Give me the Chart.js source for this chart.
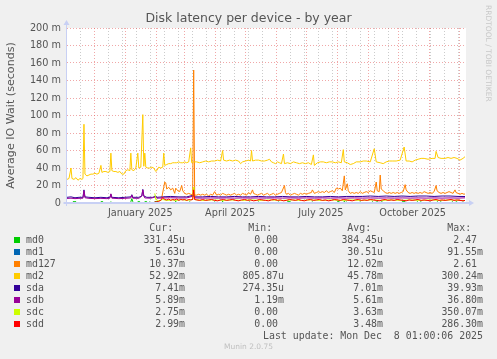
<!DOCTYPE html>
<html>
<head>
<meta charset="utf-8">
<script src="https://cdn.jsdelivr.net/npm/chart.js@4.4.1/dist/chart.umd.min.js"></script>
<style>
  html, body { margin: 0; padding: 0; background: #f0f0f0; }
  #wrap { position: relative; width: 497px; height: 359px; overflow: hidden; }
  #wrap canvas { position: absolute; left: 0; top: 0; }
  .txt { position: absolute; white-space: pre; font-family: 'DejaVu Sans Mono', monospace; font-size: 9.9px; line-height: 12px; color: #555; }
  .sw { position: absolute; width: 6px; height: 6px; }
  #rrd { position: absolute; left: 484px; top: 5px; writing-mode: vertical-rl; font-family: 'DejaVu Sans', sans-serif; font-size: 7.5px; line-height: 8px; color: #c8c8c8; white-space: pre; }
  #munin { position: absolute; left: 0; width: 497px; top: 342px; text-align: center; font-family: 'DejaVu Sans', sans-serif; font-size: 7.5px; line-height: 10px; color: #c0c0c0; }
</style>
</head>
<body>
<div id="wrap">
  <canvas id="latencyChart" width="497" height="359"></canvas>
  <div id="rrd">RRDTOOL / TOBI OETIKER</div>
  <div id="legend"></div>
  <div id="munin">Munin 2.0.75</div>
</div>
<script>
// day 0 = 3 Nov 2024, one point per [day, milliseconds]
const startDate = '2024-11-03';
const chartTitle = 'Disk latency per device - by year';
const yTitle = 'Average IO Wait (seconds)';
const xLabels = ['January 2025', 'April 2025', 'July 2025', 'October 2025'];
const xLabelMonths = ['2025-01-01', '2025-04-01', '2025-07-01', '2025-10-01'];

const seriesNames = ['md0', 'md1', 'md127', 'md2', 'sda', 'sdb', 'sdc', 'sdd'];
const seriesColors = ['#00CC00', '#0066B3', '#FF8000', '#FFCC00', '#330099', '#990099', '#CCFF00', '#FF0000'];
const curVals = ['331.45u', '5.63u', '10.37m', '52.92m', '7.41m', '5.89m', '2.75m', '2.99m'];
const minVals = ['0.00 ', '0.00 ', '0.00 ', '805.87u', '274.35u', '1.19m', '0.00 ', '0.00 '];
const avgVals = ['384.45u', '30.51u', '12.02m', '45.78m', '7.01m', '5.61m', '3.63m', '3.48m'];
const maxVals = ['2.47 ', '91.55m', '2.61 ', '300.24m', '39.93m', '36.80m', '350.07m', '286.30m'];
const lastUpdate = 'Last update: Mon Dec  8 01:00:06 2025';

const md0 = [[0,0.1],[5,0.1],[6,1.5],[9,1.5],[10,0.1],[33,0.1],[34,1.5],[36,1.5],[37,0.1],[43,0.1],[44,1.5],[45,0.1],
  [63,0.1],[64,1.5],[65,5],[66,1.5],[67,0.1],[70,0.1],[71,1.5],[73,1.5],[74,0.1],[77,0.1],[78,1.5],[80,1.5],[81,0.1],
  [82,0.1],[83,1.5],[84,0.1],[87,0.1],[88,1.5],[91,1.5],[92,0.1],[108,0.1],[109,2],[110,0.1],[122,0.1],[123,1.5],[124,0.1],
  [147,0.1],[148,1.5],[149,0.1],[155,0.1],[156,2],[157,0.1],[182,0.1],[183,1.5],[184,0.1],[191,0.1],[192,1.5],[193,0.1],
  [211,0.1],[212,1.5],[213,0.1],[220,0.1],[221,1.5],[224,1.5],[225,0.1],[245,0.1],[246,1.5],[247,0.1],[270,0.1],[271,1.5],
  [273,1.5],[274,0.1],[277,0.1],[278,2],[279,0.1],[280,1.5],[281,0.1],[293,0.1],[294,1.5],[295,0.1],[305,0.1],[306,1.5],
  [308,0.1],[311,1.5],[313,0.1],[316,1.5],[317,0.1],[335,0.1],[336,1.5],[339,1.5],[340,0.1],[350,0.1],[351,1.5],[353,0.1],
  [355,1.5],[356,0.1],[363,0.1],[364,1.5],[365,0.1],[370,0.1],[371,1.5],[373,0.1],[375,1.5],[376,0.1],[385,0.1],[386,1.5],
  [388,0.1],[391,1.5],[392,0.1],[396,0.1],[397,1.5],[398,0.1],[399,0.33]];
const md1 = [[0,0.03],[399,0.03]];
const md127 = [[95,6],[97,18],[98,24],[99,23],[100,16],[102,18],[104,15],[106,17],[108,11],[109,17],[111,14],[113,13],
  [115,20],[116,14],[118,11],[120,10],[122,11],[124,10],[126,9],[127,152],[128,9],[130,9],[132,10],[134,9],[136,10],
  [138,9],[140,10],[142,8],[144,10],[146,9],[148,13],[150,9],[152,10],[154,9],[156,11],[158,10],[160,9],[162,10],[164,9],
  [166,10],[168,11],[170,9],[172,10],[174,9],[176,11],[178,10],[180,9],[182,12],[184,10],[186,15],[187,11],[189,10],
  [191,9],[193,10],[195,11],[197,9],[199,10],[201,11],[203,9],[205,10],[207,11],[209,9],[211,10],[213,11],[215,12],
  [218,20],[219,12],[220,10],[222,11],[224,9],[226,10],[228,11],[230,10],[232,9],[234,11],[236,10],[238,11],[240,10],
  [242,11],[245,12],[246,15],[248,11],[250,12],[252,13],[254,12],[256,13],[258,12],[260,14],[262,12],[264,13],[266,14],
  [268,12],[270,17],[272,16],[274,17],[276,14],[278,31],[279,15],[281,22],[282,14],[284,11],[286,12],[288,11],[290,12],
  [292,11],[294,13],[296,11],[298,12],[300,13],[302,12],[304,14],[306,13],[308,12],[310,24],[311,14],[313,13],[314,32],
  [315,16],[317,14],[319,12],[321,11],[323,12],[325,11],[327,12],[329,11],[331,12],[333,11],[335,12],[337,13],[339,21],
  [340,15],[342,12],[344,11],[346,12],[348,11],[350,12],[352,11],[354,12],[356,11],[358,13],[360,12],[362,11],[364,12],
  [366,11],[368,13],[370,20],[371,14],[373,12],[375,11],[377,12],[379,11],[381,12],[383,13],[385,12],[387,11],[389,15],
  [390,12],[392,11],[394,10],[396,11],[398,10],[399,10.4]];
const md2 = [[0,27],[2,28],[4,40],[5,28],[7,27],[9,29],[11,26],[13,28],[15,27],[16,28],[17,90],[18,33],[20,31],[22,32],
  [24,33],[26,33],[28,34],[30,33],[32,34],[34,43],[35,35],[37,36],[39,36],[41,35],[43,36],[44,57],[45,37],[47,36],[49,36],
  [51,35],[53,36],[55,33],[57,33],[59,37],[61,38],[63,37],[64,57],[65,38],[67,37],[69,40],[71,57],[72,40],[74,41],[76,101],
  [77,42],[78,57],[79,41],[81,40],[83,40],[85,41],[87,40],[89,36],[90,37],[92,41],[94,40],[96,41],[97,57],[98,43],[100,44],
  [102,45],[104,45],[106,46],[108,46],[110,46],[112,47],[114,46],[116,46],[118,47],[120,46],[122,47],[124,63],[125,46],
  [127,47],[130,47],[133,46],[136,47],[139,48],[142,47],[145,48],[148,48],[151,49],[154,48],[156,60],[157,49],[160,48],
  [163,49],[166,48],[169,49],[172,48],[174,45],[176,47],[179,48],[182,49],[184,48],[185,60],[186,48],[189,49],[192,49],
  [195,48],[198,48],[201,49],[203,50],[205,47],[207,46],[209,45],[211,47],[213,46],[215,45],[217,56],[218,45],[221,46],
  [224,45],[227,47],[230,46],[233,45],[236,46],[239,45],[242,46],[245,44],[247,55],[248,43],[251,46],[254,47],[257,47],
  [260,46],[263,47],[266,47],[269,46],[272,47],[275,46],[277,61],[278,47],[281,46],[284,44],[287,45],[290,47],[294,47],
  [297,48],[300,48],[304,47],[308,62],[310,47],[314,46],[317,45],[320,47],[323,48],[326,48],[330,48],[334,49],[338,64],
  [340,48],[343,48],[346,47],[349,49],[352,50],[355,51],[358,51],[362,50],[366,51],[369,51],[370,59],[372,52],[375,51],
  [379,51],[382,52],[385,51],[388,52],[391,51],[394,49],[397,51],[399,52.9]];
const sda = [[0,6.5],[4,7],[8,6],[12,6.5],[16,6.5],[17,15],[18,7],[22,6.5],[28,6],[34,6.5],[40,6],[43,6.5],[44,10],
  [45,6.5],[52,6],[58,6.5],[64,7],[65,9.5],[66,6.5],[72,6.5],[75,8],[76,15.5],[77,8],[80,6.5],[86,6.5],[89,8],[90,6.5],
  [96,7],[104,7.5],[112,7],[120,7],[127,9],[128,7],[136,7],[144,7.5],[152,7],[160,7],[168,7.5],[176,7],[184,7],[192,7.5],
  [200,7],[208,7],[216,7.5],[224,7],[232,7],[240,7.5],[248,7],[256,7],[264,7.5],[272,7],[280,7.5],[288,7.5],[296,7.5],
  [304,8],[312,7.5],[320,8],[328,7.5],[336,8],[344,7.5],[352,8],[360,8],[368,7.5],[376,8],[384,8],[392,7.5],[399,7.4]];
const sdb = [[0,5.2],[4,5.5],[8,5],[12,5.3],[16,5.5],[17,14],[18,6],[22,5.3],[28,5],[34,5.3],[40,5],[43,5.5],[44,10.5],
  [45,5.5],[52,5],[58,5.3],[64,5.8],[65,9],[66,5.5],[72,5.3],[75,8],[76,15],[77,8],[78,5.8],[84,5.5],[89,7],[90,5.5],
  [96,5.8],[104,6],[112,5.7],[120,5.8],[127,8],[128,5.8],[136,5.6],[144,5.8],[152,5.6],[160,5.8],[168,5.6],[176,5.8],
  [184,5.6],[192,5.8],[200,5.6],[208,5.8],[216,5.6],[224,5.8],[232,5.6],[240,5.8],[248,5.6],[256,5.8],[264,5.6],[272,5.8],
  [280,5.6],[288,5.8],[296,5.6],[304,5.8],[312,5.6],[320,5.8],[328,5.6],[336,5.8],[344,5.6],[352,5.8],[360,5.6],[368,5.8],
  [376,5.6],[384,5.8],[392,5.6],[399,5.9]];
const sdc = [[88,11],[89,4],[92,2.5],[96,4],[100,3],[105,3.5],[110,3],[115,4],[120,3],[126,4],[127,18],[128,4],[135,3],
  [145,3.5],[155,3],[165,3.5],[175,3],[185,3.5],[195,3],[205,3.5],[215,3],[225,3.5],[235,3],[245,3.5],[255,3],[265,3.5],
  [275,3],[285,3.5],[295,3],[305,3.5],[315,3],[325,3.5],[335,3],[345,3.5],[355,3],[365,3.5],[375,3],[385,3.5],[395,3],
  [399,2.75]];
const sdd = [[88,1.5],[90,1.2],[92,2],[94,3],[96,6.5],[98,4],[100,3.5],[102,4.5],[104,3],[106,4],[108,3.5],[110,4.5],
  [112,3],[114,4],[116,3.5],[118,4],[120,3],[122,4],[124,3.5],[126,4],[127,15],[128,4],[130,3.5],[133,3],[136,4],[139,3],
  [142,3.5],[145,4],[148,3],[151,2.5],[154,3.5],[157,4],[160,3],[163,3.5],[166,4],[169,3],[172,2.5],[175,3.5],[178,4],
  [181,3],[184,3.5],[187,2.5],[190,3],[193,4],[196,3.5],[199,3],[202,2.5],[205,3.5],[208,4],[211,3],[214,3.5],[217,2.5],
  [220,3],[223,4],[226,3.5],[229,3],[232,4],[235,3],[238,2.5],[241,3.5],[244,4],[247,3],[250,3.5],[253,4],[256,3],
  [259,3.5],[262,2.5],[265,3],[268,4],[271,3.5],[274,3],[277,4],[280,3.5],[283,3],[286,2.5],[289,3.5],[292,4],[295,3],
  [298,3.5],[301,3],[304,4],[307,3.5],[310,3],[313,2.5],[316,3.5],[319,4],[322,3],[325,3.5],[328,3],[331,4],[334,3.5],
  [337,3],[340,2.5],[343,3.5],[346,3],[349,3.5],[352,4],[355,3],[358,3.5],[361,3],[364,2.5],[367,3.5],[370,4],[373,3],
  [376,3.5],[379,3],[382,3.5],[385,4],[388,3],[391,3.5],[394,3],[397,2.5],[399,3]];

const seriesData = [md0, md1, md127, md2, sda, sdb, sdc, sdd];

document.addEventListener('DOMContentLoaded', function() {
    const ctx = document.getElementById('latencyChart').getContext('2d');
    const DAY = 86400000;
    const t0 = Date.parse(startDate);
    const dayOf = s => (Date.parse(s) - t0) / DAY;

    // grid positions: month starts (red) and every other Sunday (grey)
    function buildXTicks() {
        const ticks = [];
        const major = [];
        for (let m = 0; m < 14; m++) {
            const d = (Date.UTC(2024, 10 + m, 1) - t0) / DAY;
            if (d > 0 && d < 400) { major.push(d); ticks.push({ value: d, kind: 'major' }); }
        }
        for (let d = 14; d < 400; d += 14) {
            if (!major.includes(d)) ticks.push({ value: d, kind: 'minor' });
        }
        xLabelMonths.forEach((m, i) => {
            ticks.push({ value: dayOf(m) + 14.5, kind: 'label', text: xLabels[i] });
        });
        return ticks.sort((a, b) => a.value - b.value);
    }

    const rrdFrame = {
        id: 'rrdFrame',
        beforeDraw(chart) {
            const a = chart.chartArea;
            const c = chart.ctx;
            c.save();
            c.fillStyle = '#ffffff';
            c.fillRect(a.left, a.top, a.right - a.left, a.bottom - a.top);
            c.restore();
        },
        afterDatasetsDraw(chart) {
            const a = chart.chartArea;
            const c = chart.ctx;
            const x0 = Math.round(a.left) - 0.5;
            const yb = Math.round(a.bottom);
            c.save();
            c.fillStyle = '#c8d0f4';
            c.fillRect(x0 - 3, yb - 1, a.right - x0 + 6, 2);
            c.fillRect(x0 - 0.5, a.top - 3, 1, yb - a.top + 6);
            c.beginPath();
            c.moveTo(a.right + 3, yb - 3);
            c.lineTo(a.right + 8, yb);
            c.lineTo(a.right + 3, yb + 3);
            c.closePath();
            c.fill();
            c.beginPath();
            c.moveTo(x0 - 3, a.top - 3);
            c.lineTo(x0, a.top - 8);
            c.lineTo(x0 + 3, a.top - 3);
            c.closePath();
            c.fill();
            c.restore();
        }
    };

    const datasets = seriesNames.map((name, i) => ({
        label: name,
        data: seriesData[i].map(p => ({ x: p[0], y: p[1] })),
        borderColor: seriesColors[i],
        borderWidth: 1,
        pointRadius: 0,
        fill: false,
        tension: 0,
        order: seriesNames.length - i
    }));

    new Chart(ctx, {
        type: 'line',
        data: { datasets: datasets },
        options: {
            responsive: false,
            animation: false,
            events: [],
            layout: { padding: { left: 0, right: 0, top: 0, bottom: 136 } },
            plugins: {
                legend: { display: false },
                tooltip: { enabled: false },
                title: {
                    display: true,
                    text: chartTitle,
                    color: '#555',
                    font: { family: 'DejaVu Sans', size: 12.5, weight: 'normal' },
                    padding: { top: 11, bottom: 2 }
                }
            },
            scales: {
                x: {
                    type: 'linear',
                    min: 0,
                    max: 400,
                    afterBuildTicks: function(scale) { scale.ticks = buildXTicks(); },
                    afterFit: function(scale) { scale.height = 20; },
                    grid: {
                        drawTicks: false,
                        lineWidth: 1,
                        color: c => c.tick.kind === 'major' ? 'rgba(225,80,80,0.5)' :
                            (c.tick.kind === 'minor' ? 'rgba(160,160,160,0.55)' : 'rgba(0,0,0,0)')
                    },
                    border: { display: false, dash: [1, 2] },
                    ticks: {
                        autoSkip: false,
                        maxRotation: 0,
                        minRotation: 0,
                        padding: 5,
                        color: '#555',
                        font: { family: 'DejaVu Sans', size: 9.72 },
                        callback: (v, i, ticks) => ticks[i].text || ''
                    }
                },
                y: {
                    min: 0,
                    max: 200,
                    afterFit: function(scale) { scale.width = 67; },
                    grid: {
                        drawTicks: false,
                        lineWidth: 1,
                        color: c => c.tick.value % 20 === 0 ? 'rgba(225,80,80,0.5)' : 'rgba(160,160,160,0.55)'
                    },
                    border: { display: false, dash: [1, 2] },
                    ticks: {
                        stepSize: 10,
                        padding: 6,
                        color: '#555',
                        font: { family: 'DejaVu Sans', size: 9.72 },
                        callback: v => v % 20 !== 0 ? '' : (v === 0 ? '0' : v + ' m')
                    },
                    title: {
                        display: true,
                        text: yTitle,
                        color: '#555',
                        font: { family: 'DejaVu Sans', size: 11.1 },
                        padding: { top: 4, bottom: 0 }
                    }
                },
                // empty right-hand strip that keeps the plot clear of the watermark
                side: {
                    position: 'right',
                    display: true,
                    afterFit: function(scale) { scale.width = 31; },
                    grid: { display: false, drawOnChartArea: false },
                    border: { display: false },
                    ticks: { display: false }
                }
            }
        },
        plugins: [rrdFrame]
    });

    // legend table below the graph
    const legend = document.getElementById('legend');
    function addText(text, top, right) {
        const el = document.createElement('div');
        el.className = 'txt';
        el.textContent = text;
        el.style.top = top + 'px';
        el.style.right = (497 - right) + 'px';
        el.style.textAlign = 'right';
        legend.appendChild(el);
    }
    const colRight = [185, 284, 383, 483];
    const rowTop = i => 221.5 + 12 * i;
    ['Cur:  ', 'Min:  ', 'Avg:  ', 'Max:  '].forEach((h, j) => addText(h, rowTop(0), colRight[j]));
    seriesNames.forEach((name, i) => {
        const top = rowTop(i + 1);
        const sw = document.createElement('div');
        sw.className = 'sw';
        sw.style.left = '14px';
        sw.style.top = (top + 3) + 'px';
        sw.style.background = seriesColors[i];
        legend.appendChild(sw);
        const lab = document.createElement('div');
        lab.className = 'txt';
        lab.textContent = name;
        lab.style.left = '26px';
        lab.style.top = top + 'px';
        legend.appendChild(lab);
        [curVals, minVals, avgVals, maxVals].forEach((col, j) => addText(col[i], top, colRight[j]));
    });
    addText(lastUpdate, rowTop(9), 483);
});
</script>
</body>
</html>
